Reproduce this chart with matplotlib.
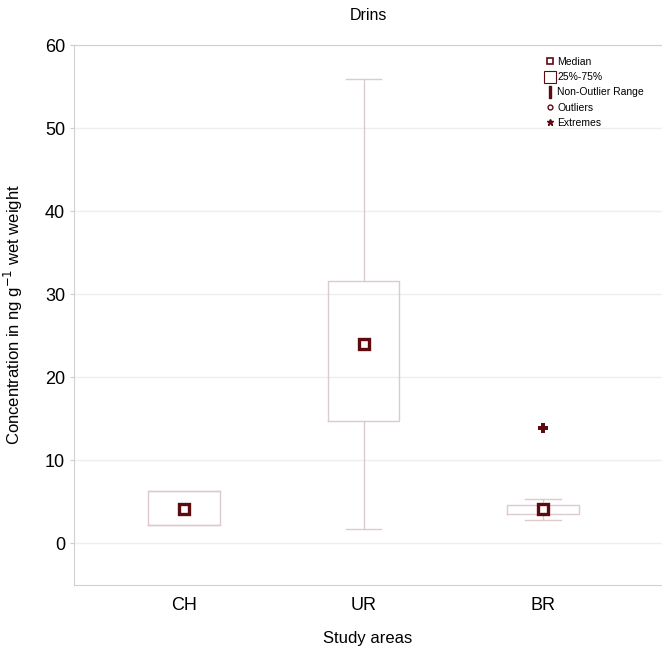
import matplotlib
matplotlib.use("Agg")
import matplotlib.pyplot as plt
from matplotlib.lines import Line2D

plt.rcParams['font.family'] = ['Liberation Sans', 'DejaVu Sans']

categories = ["CH", "UR", "BR"]
medians = [4.2, 24.0, 4.2]
q1 = [2.2, 14.7, 3.6]
q3 = [6.3, 31.6, 4.6]
whisker_low = [2.2, 1.7, 2.8]
whisker_high = [6.3, 55.9, 5.4]
extremes = [[], [], [13.9]]

dark = "#5e0b10"
light = "#dccacd"

fig = plt.figure(figsize=(6.62, 6.48), dpi=100)
ax = fig.add_axes([74/662, 63/648, 1 - 74/662, (585-45)/648])

stats = []
for i, c in enumerate(categories):
    stats.append(dict(label=c, med=medians[i], q1=q1[i], q3=q3[i],
                      whislo=whisker_low[i], whishi=whisker_high[i], fliers=[]))
pos = [1, 2, 3]
ax.bxp(stats, positions=pos, widths=0.4, showfliers=False,
       boxprops=dict(color=light, linewidth=1.0),
       whiskerprops=dict(color=light, linewidth=1.0),
       capprops=dict(color=light, linewidth=1.0),
       medianprops=dict(linewidth=0),
       capwidths=[0.4, 0.2, 0.2])
ax.plot(pos, medians, linestyle='none', marker='s', markersize=7,
        markerfacecolor='white', markeredgecolor=dark, markeredgewidth=2.4, zorder=5)
for p, ex in zip(pos, extremes):
    if ex:
        ax.plot([p]*len(ex), ex, linestyle='none', marker='P', markersize=7,
                color=dark, markeredgewidth=0, zorder=5)

ax.set_xlim(0.387, 3.663)
ax.set_ylim(-5, 60)
ax.set_yticks([0, 10, 20, 30, 40, 50, 60])
ax.set_xticks(pos)
ax.set_xticklabels(categories, fontsize=13)
ax.tick_params(axis='y', labelsize=13, length=3, color='#cccccc')
ax.tick_params(axis='x', length=0, pad=9)
ax.grid(axis='y', color='#eeeeee', linewidth=1.0)
ax.set_axisbelow(True)
for s in ['left', 'bottom', 'top']:
    ax.spines[s].set_color('#d0d0d0')
ax.spines['right'].set_visible(False)

ax.set_title("Drins", fontsize=11.5, pad=18)
ax.set_xlabel("Study areas", fontsize=12, labelpad=12)
ax.set_ylabel("Concentration in ng g$^{-1}$ wet weight", fontsize=12, labelpad=14)

handles = [
    Line2D([], [], linestyle='none', marker='s', markersize=4, markerfacecolor='white',
           markeredgecolor=dark, markeredgewidth=1.2),
    Line2D([], [], linestyle='none', marker='s', markersize=9, markerfacecolor='white',
           markeredgecolor=dark, markeredgewidth=0.8),
    Line2D([], [], linestyle='none', marker='$\\mathrm{I}$', markersize=8, color=dark),
    Line2D([], [], linestyle='none', marker='o', markersize=3.5, markerfacecolor='white',
           markeredgecolor=dark, markeredgewidth=1.0),
    Line2D([], [], linestyle='none', marker='*', markersize=5, color=dark),
]
labels = ["Median", "25%-75%", "Non-Outlier Range", "Outliers", "Extremes"]
ax.legend(handles, labels, loc='upper right', bbox_to_anchor=(0.985, 0.995), frameon=False,
          fontsize=7.5, handlelength=0.8, handletextpad=0.3, labelspacing=0.5)

fig.savefig("out.png", dpi=100)
